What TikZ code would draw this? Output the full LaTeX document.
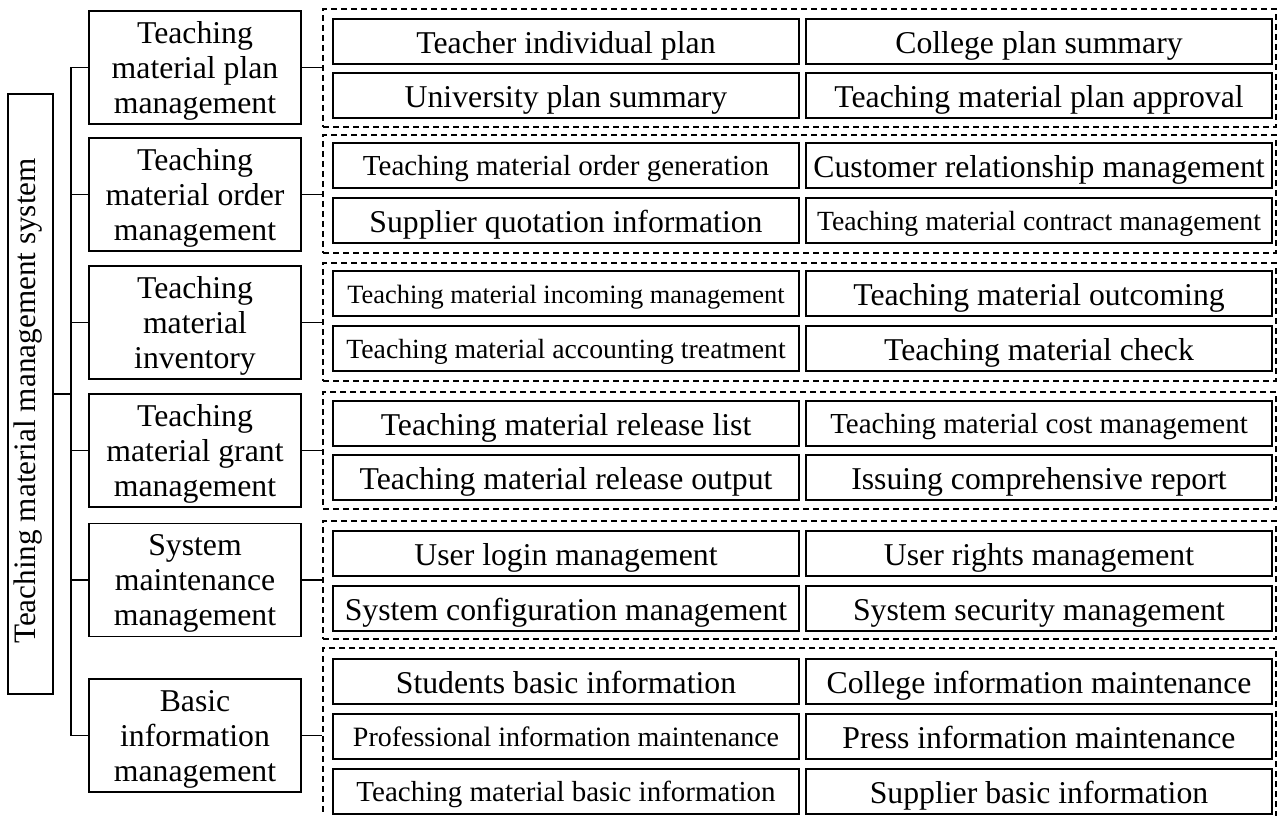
\documentclass[tikz,border=0pt]{standalone}
\usepackage{fontspec}
\setmainfont{Liberation Serif}
\newcommand\fsBig{\fontsize{23.8pt}{26.25pt}\selectfont}
\newcommand\fsRoot{\fontsize{23.4pt}{26pt}\selectfont}
\newcommand\fsMa{\fontsize{21.75pt}{24pt}\selectfont}
\newcommand\fsMb{\fontsize{21pt}{23pt}\selectfont}
\newcommand\fsMc{\fontsize{20.8pt}{23pt}\selectfont}
\newcommand\fsMd{\fontsize{19.8pt}{22pt}\selectfont}
\begin{document}
\begin{tikzpicture}[x=0.75pt,y=-0.75pt,
  item/.style={draw, line width=0.9pt, inner sep=0pt, minimum width=349.5pt,
    minimum height=33.75pt, text height=22.6pt, text depth=5pt, font=\fsBig},
  itemm/.style={item, text height=20pt, text depth=5pt},
  mod/.style={draw, line width=0.9pt, inner sep=0pt, minimum width=159pt,
    minimum height=84.75pt, align=center, text depth=0pt, font=\fsBig},
  grp/.style={draw, dash pattern=on 4.5pt off 3pt, line width=0.8pt,
    inner sep=0pt, minimum width=714.75pt},
  link/.style={line width=0.9pt}]
\useasboundingbox (0,0) rectangle (1277,816);
\clip (0,0) rectangle (1277,816);

% root
\node[draw, line width=0.9pt, rotate=90, inner sep=0pt, minimum width=450pt,
  minimum height=33.75pt, text height=12pt, text depth=5.2pt, font=\fsRoot]
  (root) at (30.5,394) {Teaching material management system\hspace*{10.5pt}};

% level-1 modules
\node[mod] (b1) at (195,67.5) {Teaching\\material plan\\management};
\node[mod] (b2) at (195,194.5) {Teaching\\material order\\management};
\node[mod] (b3) at (195,322.5) {Teaching\\material\\inventory};
\node[mod] (b4) at (195,450.5) {Teaching\\material grant\\management};
\node[mod] (b5) at (195,580) {System\\maintenance\\management};
\node[mod] (b6) at (195,735.5) {Basic\\information\\management};

% dashed groups
\node[grp, minimum height=88.5pt] (g1) at (799.5,68) {};
\node[grp, minimum height=88.5pt] (g2) at (799.5,194) {};
\node[grp, minimum height=88.5pt] (g3) at (799.5,322) {};
\node[grp, minimum height=87.75pt] (g4) at (799.5,450.5) {};
\node[grp, minimum height=88.5pt] (g5) at (799.5,580) {};
\node[grp, minimum height=132pt] (g6) at (799.5,736) {};

% group 1
\node[item] (a11) at (566,41.5) {Teacher individual plan};
\node[item] (a12) at (1039,41.5) {College plan summary};
\node[item] (a13) at (566,95.5) {University plan summary};
\node[item] (a14) at (1039,95.5) {Teaching material plan approval};
% group 2
\node[itemm, font=\fsMa] (a21) at (566,165.5) {Teaching material order generation};
\node[item] (a22) at (1039,165.5) {Customer relationship management};
\node[item] (a23) at (566,220.5) {Supplier quotation information};
\node[itemm, font=\fsMc] (a24) at (1039,220.5) {Teaching material contract management};
% group 3
\node[itemm, font=\fsMd] (a31) at (566,293.5) {Teaching material incoming management};
\node[item] (a32) at (1039,293.5) {Teaching material outcoming};
\node[itemm, font=\fsMc] (a33) at (566,348.5) {Teaching material accounting treatment};
\node[item] (a34) at (1039,348.5) {Teaching material check};
% group 4
\node[item] (a41) at (566,423.5) {Teaching material release list};
\node[itemm, font=\fsMa] (a42) at (1039,423.5) {Teaching material cost management};
\node[item] (a43) at (566,477.5) {Teaching material release output};
\node[item] (a44) at (1039,477.5) {Issuing comprehensive report};
% group 5
\node[item] (a51) at (566,553.5) {User login management};
\node[item] (a52) at (1039,553.5) {User rights management};
\node[item] (a53) at (566,608.5) {System configuration management};
\node[item] (a54) at (1039,608.5) {System security management};
% group 6
\node[item] (a61) at (566,681.5) {Students basic information};
\node[item] (a62) at (1039,681.5) {College information maintenance};
\node[itemm, font=\fsMb] (a63) at (566,736.5) {Professional information maintenance};
\node[item] (a64) at (1039,736.5) {Press information maintenance};
\node[itemm, font=\fsMa] (a65) at (566,791.5) {Teaching material basic information};
\node[item] (a66) at (1039,791.5) {Supplier basic information};

% trunk
\coordinate (ttop) at (71,67.5);
\coordinate (tbot) at (71,735.5);
\draw[link] (b1.west) -- (ttop) -- (tbot) -- (b6.west);
\foreach \k in {2,3,4,5} \draw[link] (b\k.west) -- (b\k.west -| ttop);
\draw[link] (root.south) -- (root.south -| ttop);

% module to group connectors
\foreach \k in {1,...,6} \draw[link] (b\k.east) -- (b\k.east -| g\k.west);
\end{tikzpicture}
\end{document}
